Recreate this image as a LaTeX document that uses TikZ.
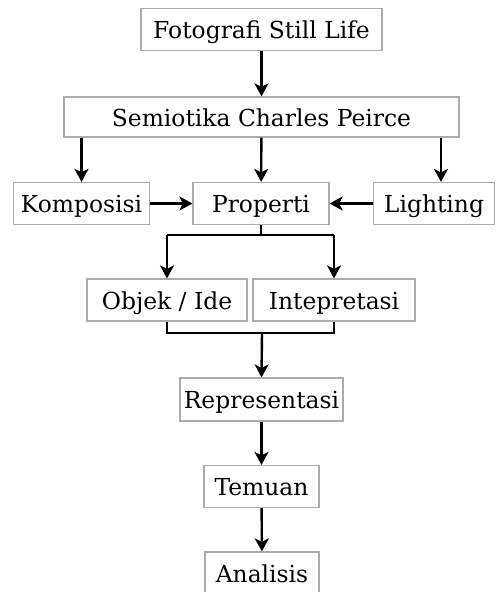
\documentclass[tikz,border=0pt]{standalone}
\usepackage{fontspec}
\setmainfont{DejaVu Serif}
\usepackage{tikz}
\usetikzlibrary{shapes, arrows.meta, positioning, calc}

\begin{document}
\begin{tikzpicture}[x=1pt, y=-1pt,
    box/.style={draw=gray!65, line width=1.2pt, inner sep=0pt, font=\fontsize{23.4}{28}\selectfont,
        text height=21pt, text depth=3pt, minimum height=42pt},
    line/.style={black, line width=2.4pt},
    arr/.style={line, -{Stealth[length=13pt, width=14pt, inset=3.5pt]}}]
    \useasboundingbox (0,0) rectangle (499,592);

    % Top of the chart
    \node[box, minimum width=241pt] (foto) at (261.5, 29.5) {Fotografi Still Life};
    \node[box, minimum width=395pt, minimum height=40pt] (semio) at (261.5, 117) {Semiotika Charles Peirce};

    % Three elements
    \node[box, minimum width=136pt] (kompo) at (81.5, 203.5) {Komposisi};
    \node[box, minimum width=136pt] (prop) at (261, 203.5) {Properti};
    \node[box, minimum width=121pt] (light) at (434, 203.5) {Lighting};

    % Objek and interpretant
    \node[box, minimum width=160pt] (objek) at (167, 300) {Objek / Ide};
    \node[box, minimum width=162pt] (intep) at (334, 300) {Intepretasi};

    % Bottom column
    \node[box, minimum width=163pt, minimum height=43pt] (repr) at (261.5, 399.5) {Representasi};
    \node[box, minimum width=115pt] (temuan) at (261.5, 486.5) {Temuan};
    \node[box, minimum width=114pt] (analisis) at (262, 573) {Analisis};

    % Junction points
    \coordinate (pj) at (261, 235);
    \coordinate (mj) at (262, 333);

    % Connectors
    \draw[arr] (foto) -- (semio);
    \draw[arr] (kompo.north |- semio.south) -- (kompo.north);
    \draw[arr] (semio) -- (prop);
    \draw[arr] ([xshift=7pt]light.north |- semio.south) -- ([xshift=7pt]light.north);
    \draw[arr] (kompo) -- (prop);
    \draw[arr] (light) -- (prop);

    \draw[line] (prop.south) -- (pj);
    \draw[arr] (pj -| objek.north) -- (objek.north);
    \draw[arr] (pj -| intep.north) -- (intep.north);
    \draw[line] (pj -| objek.north) -- (pj -| intep.north);

    \draw[line] (objek.south) -- (objek.south |- mj) -- (intep.south |- mj) -- (intep.south);
    \draw[arr] (mj) -- (repr.north);

    \draw[arr] (repr) -- (temuan);
    \draw[arr] (temuan) -- (analisis);
\end{tikzpicture}
\end{document}
